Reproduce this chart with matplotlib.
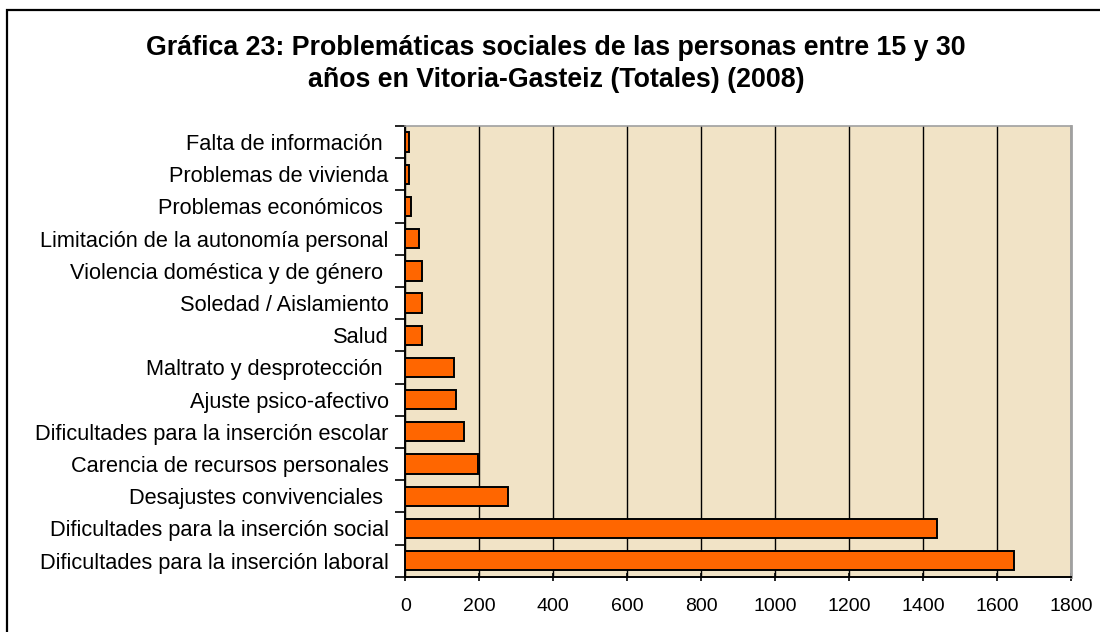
import numpy as np
import matplotlib
import matplotlib.pyplot as plt
from matplotlib.patches import Rectangle

matplotlib.use("Agg")

plt.rcParams["font.family"] = ["Liberation Sans", "DejaVu Sans"]

# Categories from bottom to top, as drawn
categorias = [
    "Dificultades para la inserción laboral",
    "Dificultades para la inserción social",
    "Desajustes convivenciales ",
    "Carencia de recursos personales",
    "Dificultades para la inserción escolar",
    "Ajuste psico-afectivo",
    "Maltrato y desprotección ",
    "Salud",
    "Soledad / Aislamiento",
    "Violencia doméstica y de género ",
    "Limitación de la autonomía personal",
    "Problemas económicos ",
    "Problemas de vivienda",
    "Falta de información ",
]
totales = [1645, 1438, 277, 196, 158, 136, 131, 44, 45, 45, 38, 16, 10, 11]

x_ticks = [0, 200, 400, 600, 800, 1000, 1200, 1400, 1600, 1800]

fig = plt.figure(figsize=(11, 6.32), dpi=100)
fig.patch.set_facecolor("white")

# outer frame of the chart
fig.patches.append(
    Rectangle((7 / 1100, -0.05), 1.2, 1 - 10 / 632 + 0.05,
              transform=fig.transFigure, fill=False,
              edgecolor="black", linewidth=1.6, zorder=0)
)

ax = fig.add_axes([0.3685, 0.0875, 0.605, 0.7131])
ax.set_facecolor("#F1E3C6")

y = np.arange(len(categorias))
ax.barh(y, totales, height=0.6, color="#FF6600", edgecolor="black",
        linewidth=1.4, zorder=3)

ax.set_xlim(0, 1800)
ax.set_ylim(-0.5, len(categorias) - 0.5)
ax.set_xticks(x_ticks)
ax.set_xticklabels([str(t) for t in x_ticks], fontsize=14)
ax.set_yticks(y)
ax.set_yticklabels(categorias, fontsize=15.7)

# ticks between categories, like the original
ax.set_yticks(np.arange(-0.5, len(categorias), 1), minor=True)
ax.tick_params(axis="y", which="major", length=0, pad=12)
ax.tick_params(axis="y", which="minor", length=7, width=1.2, color="black")
ax.tick_params(axis="x", which="major", length=6, width=1.2, pad=12,
               direction="inout")

ax.grid(axis="x", color="black", linewidth=1.0, zorder=1)
ax.set_axisbelow(True)

ax.spines["left"].set_color("black")
ax.spines["left"].set_linewidth(1.4)
ax.spines["bottom"].set_color("black")
ax.spines["bottom"].set_linewidth(1.4)
ax.spines["top"].set_color("#A0A0A0")
ax.spines["top"].set_linewidth(1.2)
ax.spines["right"].set_color("#A0A0A0")
ax.spines["right"].set_linewidth(2.0)

fig.text(556 / 1100, 1 - 64 / 632,
         "Gráfica 23: Problemáticas sociales de las personas entre 15 y 30\n"
         "años en Vitoria-Gasteiz (Totales) (2008)",
         ha="center", va="center", fontsize=19.3, fontweight="bold",
         linespacing=1.3)

fig.savefig("out.png", dpi=100)
